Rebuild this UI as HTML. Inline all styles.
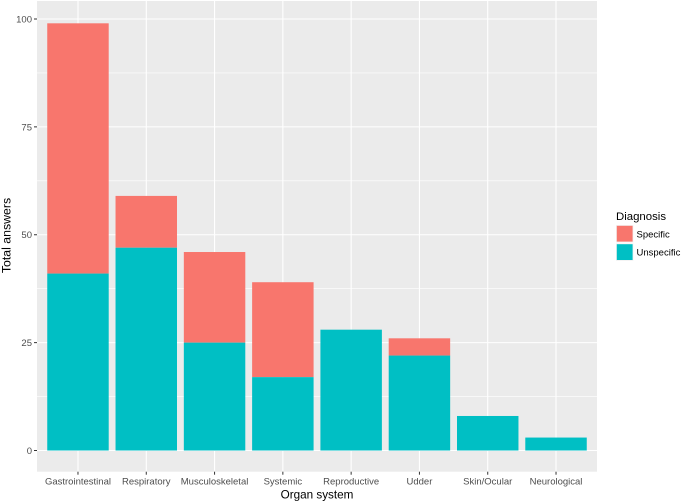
<!DOCTYPE html>
<html>
<head>
<meta charset="utf-8">
<style>
html,body{margin:0;padding:0;background:#fff;width:682px;height:503px;overflow:hidden}
svg{display:block;font-family:"Liberation Sans",sans-serif}
</style>
</head>
<body>
<svg id="chart" width="682" height="503" viewBox="0 0 682 503" xmlns="http://www.w3.org/2000/svg">
  <rect id="panel" x="37" y="1" width="560" height="470.7" fill="#ebebeb"/>
  <g id="grid"></g>
  <g id="bars"></g>
  <g id="axes"></g>
  <text x="317" y="498.5" font-size="11.7" fill="#000" text-anchor="middle">Organ system</text>
  <text transform="translate(10.5,235.5) rotate(-90)" font-size="12.3" fill="#000" text-anchor="middle">Total answers</text>
  <g>
    <text x="616" y="220" font-size="11.4" fill="#000">Diagnosis</text>
    <rect x="616" y="225" width="17.4" height="17.4" fill="#f2f2f2"/>
    <rect x="616.8" y="225.8" width="15.8" height="15.8" fill="#f8766d"/>
    <text x="636.5" y="237.5" font-size="9.5" fill="#000">Specific</text>
    <rect x="616" y="243.4" width="17.4" height="17.4" fill="#f2f2f2"/>
    <rect x="616.8" y="244.2" width="15.8" height="15.8" fill="#00bfc4"/>
    <text x="636.5" y="255.5" font-size="9.5" fill="#000">Unspecific</text>
  </g>
</svg>
<script>
const categories = ["Gastrointestinal","Respiratory","Musculoskeletal","Systemic","Reproductive","Udder","Skin/Ocular","Neurological"];
const specificValues = [58,12,21,22,0,4,0,0];
const unspecificValues = [41,47,25,17,28,22,8,3];
const yTickLabels = [0,25,50,75,100];
const yMinorTicks = [12.5,37.5,62.5,87.5];

const NS = "http://www.w3.org/2000/svg";
const panelLeft = 37, panelRight = 597, panelTop = 1, panelBottom = 471.7;
const y0Pixel = 450.5, y100Pixel = 19;
const step = (panelRight - panelLeft) / (categories.length + 0.2);
const xScale = i => panelLeft + (i + 0.6) * step;
const yScale = v => y0Pixel - (v / 100) * (y0Pixel - y100Pixel);
const barWidth = 0.9 * step;

function make(parent, tag, attrs) {
  const el = document.createElementNS(NS, tag);
  Object.keys(attrs).forEach(k => el.setAttribute(k, attrs[k]));
  parent.appendChild(el);
  return el;
}
const grid = document.getElementById("grid");
const bars = document.getElementById("bars");
const axes = document.getElementById("axes");

yMinorTicks.forEach(v => {
  const el = make(grid, "line", {x1: panelLeft, x2: panelRight, y1: yScale(v), y2: yScale(v), stroke: "#fff", "stroke-width": 0.55});
  
  
});
yTickLabels.forEach(v => {
  const y = yScale(v);
  const line = make(grid, "line", {x1: panelLeft, x2: panelRight, y1: y, y2: y, stroke: "#fff", "stroke-width": 1.1});
  
  
  const tick = make(axes, "line", {x1: panelLeft - 3, x2: panelLeft, y1: y, y2: y, stroke: "#333", "stroke-width": 1});
  
  
  const label = make(axes, "text", {x: panelLeft - 5, y: y + 3.4, "font-size": 9.5, fill: "#4d4d4d", "text-anchor": "end"});
  label.textContent = v;
  
  
});
categories.forEach((c, i) => {
  const x = xScale(i);
  const line = make(grid, "line", {x1: x, x2: x, y1: panelTop, y2: panelBottom, stroke: "#fff", "stroke-width": 1.1});
  
  
  const u = unspecificValues[i], s = specificValues[i];
  if (s > 0) {
    const r = make(bars, "rect", {x: x - barWidth / 2, width: barWidth, y: yScale(u + s), height: yScale(u) - yScale(u + s), fill: "#f8766d"});
    
    
  }
  const r2 = make(bars, "rect", {x: x - barWidth / 2, width: barWidth, y: yScale(u), height: yScale(0) - yScale(u), fill: "#00bfc4"});
  
  
  const tick = make(axes, "line", {x1: x, x2: x, y1: panelBottom, y2: panelBottom + 3, stroke: "#333", "stroke-width": 1});
  
  
  const label = make(axes, "text", {x: x, y: 484.5, "font-size": 9.5, fill: "#4d4d4d", "text-anchor": "middle"});
  label.textContent = c;
  
  
});
</script>
</body>
</html>
